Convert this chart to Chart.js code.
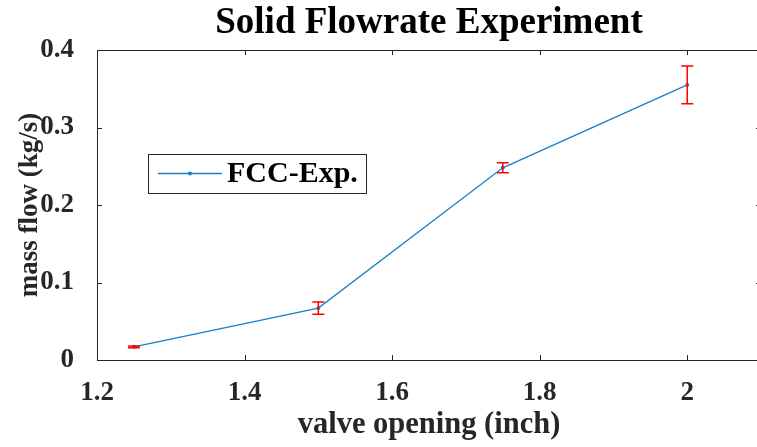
<!DOCTYPE html>
<html>
<head>
<meta charset="utf-8">
<script src="https://cdn.jsdelivr.net/npm/chart.js@4/dist/chart.umd.min.js"></script>
<style>
	html, body { margin: 0; padding: 0; background: #fff; }
	#wrap { width: 757px; height: 447px; overflow: hidden; position: relative; }
	#flowC { display: block; }
</style>
</head>
<body>
<div id="wrap"><canvas id="flowC" width="770" height="447"></canvas></div>
<script>
// measured points
const valveOpening = [1.25, 1.5, 1.75, 2.0];
const massFlow = [0.017, 0.067, 0.248, 0.355];
const massFlowErr = [0.0012, 0.008, 0.0065, 0.0245];
// axis ticks
const xTickVals = [1.2, 1.4, 1.6, 1.8, 2.0];
const yTickVals = [0, 0.1, 0.2, 0.3, 0.4];

const serif = "'Liberation Serif', 'Times New Roman', serif";
const axisCol = '#262626';

// box around the plot area with inward ticks on every side
const axesBox = {
	id: 'axesBox',
	afterDraw(chart) {
		const { ctx, chartArea: a, scales } = chart;
		const tl = 5;
		ctx.save();
		ctx.strokeStyle = axisCol;
		ctx.lineWidth = 1;
		ctx.beginPath();
		xTickVals.forEach(v => {
			const x = Math.round(scales.x.getPixelForValue(v)) + 0.5;
			ctx.moveTo(x, a.bottom); ctx.lineTo(x, a.bottom - tl);
			ctx.moveTo(x, a.top); ctx.lineTo(x, a.top + tl);
		});
		yTickVals.forEach(v => {
			const y = Math.round(scales.y.getPixelForValue(v)) + 0.5;
			ctx.moveTo(a.left, y); ctx.lineTo(a.left + tl, y);
			ctx.moveTo(a.right, y); ctx.lineTo(a.right - tl, y);
		});
		ctx.stroke();
		ctx.strokeRect(Math.round(a.left) + 0.5, Math.round(a.top) + 0.5, Math.round(a.right - a.left), Math.round(a.bottom - a.top));
		ctx.restore();
	}
};

// red error bars with caps
const errBars = {
	id: 'errBars',
	afterDatasetsDraw(chart) {
		const { ctx, scales } = chart;
		const cap = 6;
		ctx.save();
		ctx.strokeStyle = '#ff0000';
		ctx.lineWidth = 1.5;
		ctx.beginPath();
		valveOpening.forEach((v, i) => {
			const x = scales.x.getPixelForValue(v);
			const y1 = scales.y.getPixelForValue(massFlow[i] + massFlowErr[i]);
			const y2 = scales.y.getPixelForValue(massFlow[i] - massFlowErr[i]);
			ctx.moveTo(x, y1); ctx.lineTo(x, y2);
			ctx.moveTo(x - cap, y1); ctx.lineTo(x + cap, y1);
			ctx.moveTo(x - cap, y2); ctx.lineTo(x + cap, y2);
		});
		ctx.stroke();
		ctx.restore();
	}
};

// boxed legend inside the plot
const boxLegend = {
	id: 'boxLegend',
	afterDraw(chart) {
		const { ctx, chartArea: a } = chart;
		const ds = chart.data.datasets[0];
		const x = a.left + 51, y = a.top + 104, w = 218, h = 39;
		const my = y + h / 2;
		ctx.save();
		ctx.fillStyle = '#fff';
		ctx.fillRect(x, y, w, h);
		ctx.strokeStyle = axisCol;
		ctx.lineWidth = 1;
		ctx.strokeRect(x + 0.5, y + 0.5, w, h);
		ctx.strokeStyle = ds.borderColor;
		ctx.lineWidth = 1.3;
		ctx.beginPath();
		ctx.moveTo(x + 10, my); ctx.lineTo(x + 74, my);
		ctx.stroke();
		ctx.fillStyle = ds.borderColor;
		ctx.beginPath();
		ctx.arc(x + 42, my, 2, 0, Math.PI * 2);
		ctx.fill();
		ctx.fillStyle = '#000';
		ctx.font = 'bold 30px ' + serif;
		ctx.textBaseline = 'middle';
		ctx.fillText(ds.label, x + 79, my + 1);
		ctx.restore();
	}
};

function fmt(v) {
	return String(Math.round(v * 10) / 10);
}

var flowChart = new Chart(document.getElementById('flowC'), {
	type: 'line',
	data: {
		datasets: [{
			label: 'FCC-Exp.',
			data: valveOpening.map((v, i) => ({ x: v, y: massFlow[i] })),
			borderColor: '#1a80c8',
			backgroundColor: '#1a80c8',
			borderWidth: 1.3,
			pointRadius: 2,
			pointBorderWidth: 0,
			tension: 0,
			fill: false
		}]
	},
	options: {
		responsive: false,
		animation: false,
		events: [],
		layout: { padding: { left: 0, right: 9, top: 0, bottom: 0 } },
		plugins: {
			legend: { display: false },
			tooltip: { enabled: false },
			title: {
				display: true,
				fullSize: false,
				text: 'Solid Flowrate Experiment',
				color: '#000',
				font: { family: serif, size: 37, weight: 'bold' },
				padding: { top: 1, bottom: 4.6 }
			}
		},
		scales: {
			x: {
				type: 'linear',
				min: 1.2,
				max: 2.1,
				grid: { display: false },
				border: { display: false },
				afterBuildTicks: (s) => { s.ticks = xTickVals.map(v => ({ value: v })); },
				afterFit: (s) => { s.height = 87; },
				ticks: {
					color: axisCol,
					padding: 9,
					maxRotation: 0,
					font: { family: serif, size: 27, weight: 'bold' },
					callback: (v) => fmt(v)
				},
				title: {
					display: true,
					text: 'valve opening (inch)',
					color: axisCol,
					font: { family: serif, size: 30.5, weight: 'bold' },
					padding: { top: 0, bottom: 4 }
				}
			},
			y: {
				min: 0,
				max: 0.4,
				grid: { display: false },
				border: { display: false },
				afterBuildTicks: (s) => { s.ticks = yTickVals.map(v => ({ value: v })); },
				afterFit: (s) => { s.width = 97; },
				ticks: {
					color: axisCol,
					padding: 15,
					font: { family: serif, size: 27, weight: 'bold' },
					callback: (v) => fmt(v)
				},
				title: {
					display: true,
					text: 'mass flow (kg/s)',
					color: axisCol,
					font: { family: serif, size: 27, weight: 'bold' },
					padding: { top: 14, bottom: 0 }
				}
			}
		}
	},
	plugins: [axesBox, errBars, boxLegend]
});
</script>
</body>
</html>
